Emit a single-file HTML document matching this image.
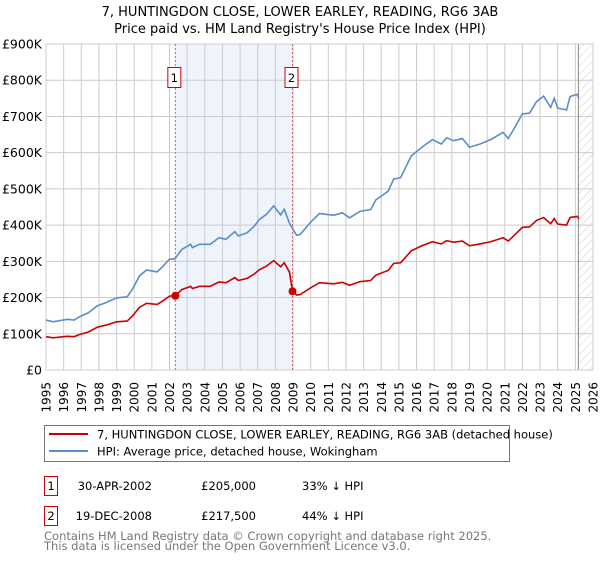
<!DOCTYPE html>
<html><head><meta charset="utf-8"><style>
body{margin:0;background:#fff;font-family:"Liberation Sans","DejaVu Sans",sans-serif;}
svg text{font-family:"DejaVu Sans","Liberation Sans",sans-serif;}
</style></head><body>
<svg id="chart" width="600" height="560" viewBox="0 0 600 560" xmlns="http://www.w3.org/2000/svg">
<defs><pattern id="hatch" width="6" height="6" patternUnits="userSpaceOnUse" patternTransform="rotate(45)"><line x1="0" y1="0" x2="0" y2="6" stroke="#ccc" stroke-width="1"/></pattern></defs>
<text x="300" y="16" text-anchor="middle" font-size="13">7, HUNTINGDON CLOSE, LOWER EARLEY, READING, RG6 3AB</text>
<text x="300" y="33" text-anchor="middle" font-size="13">Price paid vs. HM Land Registry's House Price Index (HPI)</text>
<g id="plot"></g>
<g>
<rect x="44.5" y="425.5" width="465" height="36" fill="#fff" stroke="#777"/>
<line x1="49" y1="434" x2="88" y2="434" stroke="#cc0000" stroke-width="2"/>
<text x="97" y="438.5" font-size="11.5">7, HUNTINGDON CLOSE, LOWER EARLEY, READING, RG6 3AB (detached house)</text>
<line x1="49" y1="451" x2="88" y2="451" stroke="#5b8ccf" stroke-width="2"/>
<text x="97" y="455.5" font-size="11.5">HPI: Average price, detached house, Wokingham</text>
</g>
<g font-size="11.5">
<rect x="44.5" y="476.5" width="13" height="19" fill="none" stroke="#cc0000"/>
<text x="51" y="490" text-anchor="middle">1</text>
<text x="152" y="490" text-anchor="end">30-APR-2002</text>
<text x="256" y="490" text-anchor="end">£205,000</text>
<text x="302" y="490">33% ↓ HPI</text>
<rect x="44.5" y="506.5" width="13" height="19" fill="none" stroke="#cc0000"/>
<text x="51" y="520" text-anchor="middle">2</text>
<text x="152" y="520" text-anchor="end">19-DEC-2008</text>
<text x="256" y="520" text-anchor="end">£217,500</text>
<text x="302" y="520">44% ↓ HPI</text>
</g>
<text x="44" y="540" font-size="11.5" fill="#777">Contains HM Land Registry data © Crown copyright and database right 2025.</text>
<text x="44" y="550" font-size="11.5" fill="#777">This data is licensed under the Open Government Licence v3.0.</text>
</svg>
<script>
const hpiYears=[1995.0,1995.4,1996.2,1996.6,1996.9,1997.4,1997.9,1998.4,1999.0,1999.6,1999.9,2000.3,2000.7,2001.3,2001.6,2002.0,2002.3,2002.7,2003.2,2003.3,2003.7,2004.3,2004.8,2005.2,2005.7,2005.9,2006.4,2006.8,2007.1,2007.5,2007.9,2008.3,2008.5,2008.8,2009.2,2009.4,2010.0,2010.5,2011.3,2011.8,2012.2,2012.8,2013.4,2013.7,2014.4,2014.7,2015.1,2015.7,2016.3,2016.9,2017.4,2017.7,2018.1,2018.6,2019.0,2019.6,2020.2,2020.9,2021.2,2021.5,2022.0,2022.4,2022.8,2023.2,2023.6,2023.8,2024.0,2024.5,2024.7,2025.1,2025.2];
const hpiValues=[138,133,140,138,147,158,177,186,199,202,223,260,276,271,285,306,307,333,347,338,347,347,365,361,382,370,379,397,416,430,453,428,444,405,372,374,408,432,427,434,420,438,443,470,494,527,531,591,615,636,624,641,633,639,615,624,636,656,639,664,707,709,741,756,725,750,723,718,755,761,750];
const redYears=[1995.0,1995.4,1996.2,1996.6,1996.9,1997.4,1997.9,1998.4,1999.0,1999.6,1999.9,2000.3,2000.7,2001.3,2001.6,2002.0,2002.33,2002.7,2003.2,2003.3,2003.7,2004.3,2004.8,2005.2,2005.7,2005.9,2006.4,2006.8,2007.1,2007.5,2007.9,2008.3,2008.5,2008.8,2008.97,2009.2,2009.4,2010.0,2010.5,2011.3,2011.8,2012.2,2012.8,2013.4,2013.7,2014.4,2014.7,2015.1,2015.7,2016.3,2016.9,2017.4,2017.7,2018.1,2018.6,2019.0,2019.6,2020.2,2020.9,2021.2,2021.5,2022.0,2022.4,2022.8,2023.2,2023.6,2023.8,2024.0,2024.5,2024.7,2025.1,2025.2];
const redValues=[92,89,93,92,98,105,118,124,133,135,149,173,184,181,190,204,205,222,231,225,231,231,243,241,255,247,253,265,277,287,302,285,296,270,217.5,207,208,227,241,238,242,234,244,247,262,275,294,296,329,343,354,348,357,353,356,343,348,354,365,356,370,394,395,413,421,404,418,403,400,421,424,418];
const saleYears=[2002.33,2008.97];
const saleValues=[205,217.5];
const saleLabels=["1","2"];
const yTicks=[0,100,200,300,400,500,600,700,800,900];
const yTickLabels=["£0","£100K","£200K","£300K","£400K","£500K","£600K","£700K","£800K","£900K"];
const xTicks=[1995,1996,1997,1998,1999,2000,2001,2002,2003,2004,2005,2006,2007,2008,2009,2010,2011,2012,2013,2014,2015,2016,2017,2018,2019,2020,2021,2022,2023,2024,2025,2026];
const dataEndYear=2025.2;

const X0=46,X1=593,Y0=370,Y1=44;
const xs=y=>X0+(y-1995)/(2026-1995)*(X1-X0);
const ys=v=>Y0-v/900*(Y0-Y1);
const NS="http://www.w3.org/2000/svg";
const g=document.getElementById('plot');
function mk(t,a){const e=document.createElementNS(NS,t);for(const k in a)e.setAttribute(k,a[k]);g.appendChild(e);return e;}

const bg=mk('rect',{x:X0,y:Y1,width:X1-X0,height:Y0-Y1,fill:'#fff'});


const shade=mk('rect',{x:xs(saleYears[0]),y:Y1,width:xs(saleYears[1])-xs(saleYears[0]),height:Y0-Y1,fill:'#eef3fc'});


const hatch=mk('rect',{x:xs(dataEndYear),y:Y1,width:X1-xs(dataEndYear),height:Y0-Y1,fill:'url(#hatch)'});



yTicks.forEach((v,i)=>{
  const l=mk('line',{x1:X0,x2:X1,y1:ys(v),y2:ys(v),stroke:'#ccc','stroke-width':1});
  
  
  const t=mk('text',{x:X0-4,y:ys(v)+4.5,'text-anchor':'end','font-size':'12.5'});
  t.textContent=yTickLabels[i];
  
  
});
xTicks.forEach(y=>{
  const l=mk('line',{x1:xs(y),x2:xs(y),y1:Y1,y2:Y0,stroke:'#ccc','stroke-width':1});
  
  
  const tx=xs(y)+4.5, ty=382;
  const t=mk('text',{x:tx,y:ty,'text-anchor':'end','font-size':'12',transform:`rotate(-90 ${tx} ${ty})`});
  t.textContent=String(y);
  
  
});
const endLine=mk('line',{x1:xs(dataEndYear)-0.5,x2:xs(dataEndYear)-0.5,y1:Y1,y2:Y0,stroke:'#888','stroke-width':1});


const frame=mk('rect',{x:X0,y:Y1,width:X1-X0,height:Y0-Y1,fill:'none',stroke:'#ccc'});



saleYears.forEach((y,i)=>{
  const l=mk('line',{x1:xs(y),x2:xs(y),y1:Y1,y2:Y0,stroke:'#e06060','stroke-width':1,'stroke-dasharray':'2,2'});
  
  
});

const hp=mk('polyline',{points:hpiYears.map((y,i)=>xs(y)+','+ys(hpiValues[i])).join(' '),fill:'none',stroke:'#5b8ccf','stroke-width':1.6});


const rp=mk('polyline',{points:redYears.map((y,i)=>xs(y)+','+ys(redValues[i])).join(' '),fill:'none',stroke:'#cc0000','stroke-width':1.6});



saleYears.forEach((y,i)=>{
  const c=mk('circle',{cx:xs(y),cy:ys(saleValues[i]),r:4,fill:'#cc0000'});
  
  
  const b=mk('rect',{x:xs(y)-7.5,y:67.5,width:13,height:20,fill:'#fff',stroke:'#cc0000'});
  
  
  const t=mk('text',{x:xs(y)-1,y:82,'text-anchor':'middle','font-size':'11.5'});
  t.textContent=saleLabels[i];
  
  
});
</script>
</body></html>
